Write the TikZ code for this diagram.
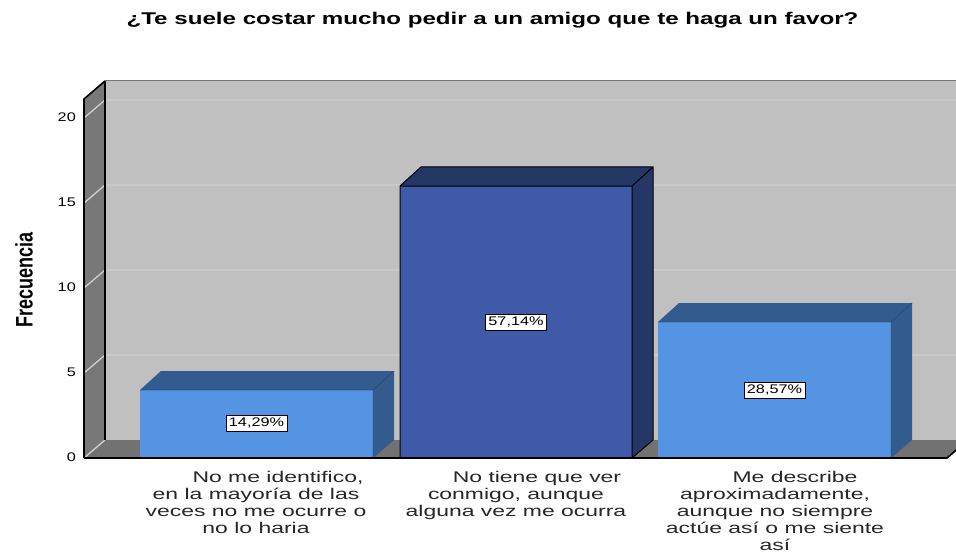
\documentclass[tikz,border=0pt]{standalone}
\usepackage{fontspec}
\setmainfont{Liberation Sans}
\newfontfamily\spssfont[FakeStretch=1.3]{Liberation Sans}
\newfontfamily\spsscat[FakeStretch=1.48]{Liberation Sans}
\newfontfamily\spsstitle[FakeStretch=1.42]{Liberation Sans}
\newfontfamily\spssnarrow[FakeStretch=0.75]{Liberation Sans}

\definecolor{wallgray}{HTML}{C0C0C0}
\definecolor{sidegray}{HTML}{787878}
\definecolor{gridgray}{HTML}{D0D0D0}
\definecolor{lightbar}{HTML}{5594E2}
\definecolor{lightbarside}{HTML}{335B8E}
\definecolor{darkbar}{HTML}{3E5AA8}
\definecolor{darkbarside}{HTML}{243765}

\tikzset{
  gridline/.style={draw=gridgray, line width=1.3pt},
  edge/.style={draw=black, line width=1.6pt},
  tick/.style={anchor=mid east, inner sep=0pt, font=\spssfont\fontsize{12.5}{14}\selectfont},
  pct/.style={draw=black, fill=white, line width=0.8pt, inner xsep=3pt, inner ysep=2.2pt,
    text height=9pt, text depth=2.5pt, font=\spssfont\fontsize{12.5}{14}\selectfont},
  catlabel/.style={anchor=north, align=center, inner sep=0pt, text=black!85,
    font=\spsscat\fontsize{15.5}{16.9}\selectfont}
}

\begin{document}
\begin{tikzpicture}[x=1pt,y=-1pt]
\useasboundingbox (0,0) rectangle (956,559);
\clip (0,0) rectangle (956,559);

\node (title) at (492.5,25) [anchor=base, inner sep=0pt] {\spsstitle\fontsize{17}{20}\selectfont\bfseries ¿Te suele costar mucho pedir a un amigo que te haga un favor?};

% walls and floor
\fill[wallgray] (105,81) rectangle (968,440);
\fill[sidegray] (84,458) -- (84,99) -- (105,81) -- (105,440) -- cycle;
\fill[sidegray!95!black] (84,458) -- (105,440) -- (968,440) -- (947,458) -- cycle;

\draw[gridline] (84,373) -- (105,355) -- (968,355);
\draw[gridline] (84,288) -- (105,270) -- (968,270);
\draw[gridline] (84,203) -- (105,185) -- (968,185);
\draw[gridline] (84,118) -- (105,100) -- (968,100);
\draw[gridline] (84,458) -- (105,440);

\draw[draw=sidegray, line width=1pt] (105,81) -- (968,81);
\draw[edge] (84,458) -- (84,99) -- (105,81);
\draw[draw=black, line width=1.2pt] (105,81) -- (105,440);

\node (t0) at (76,459) [tick] {0};
\node (t5) at (76,374) [tick] {5};
\node (t10) at (76,289) [tick] {10};
\node (t15) at (76,204) [tick] {15};
\node (t20) at (76,119) [tick] {20};

\node (ylab) at (24,280) [rotate=90, inner sep=0pt] {\spssnarrow\fontsize{24}{26}\selectfont\bfseries Frecuencia};

% bar 1
\fill[lightbar] (140,390) rectangle (373,458);
\fill[lightbarside] (140,390) -- (161,371) -- (394,371) -- (373,390) -- cycle;
\fill[lightbarside] (373,390) -- (394,371) -- (394,440) -- (373,458) -- cycle;
\draw[lightbarside!70!black, line width=0.4pt] (140,390) -- (373,390) -- (394,371) (373,390) -- (373,458);

% bar 2
\fill[darkbar] (400,186) rectangle (632,458);
\fill[darkbarside] (400,186) -- (421,167) -- (653,167) -- (632,186) -- cycle;
\fill[darkbarside] (632,186) -- (653,167) -- (653,440) -- (632,458) -- cycle;
\draw[black, line width=1pt] (400,458) -- (400,186) -- (421,167) -- (653,167) -- (653,440) -- (632,458) -- cycle
  (400,186) -- (632,186) -- (653,167) (632,186) -- (632,458);

% bar 3
\fill[lightbar] (658,322) rectangle (891,458);
\fill[lightbarside] (658,322) -- (679,303) -- (912,303) -- (891,322) -- cycle;
\fill[lightbarside] (891,322) -- (912,303) -- (912,440) -- (891,458) -- cycle;
\draw[lightbarside!70!black, line width=0.4pt] (658,322) -- (891,322) -- (912,303) (891,322) -- (891,458);

\draw[edge] (84,458) -- (947,458) -- (968,440);

\node (p1) at (256.5,423) [pct] {14,29\%};
\node (p2) at (516,322) [pct] {57,14\%};
\node (p3) at (774.5,390) [pct] {28,57\%};

\node (c1) at (256,471.5) [catlabel] {\hspace*{44pt}No me identifico,\\en la mayoría de las\\veces no me ocurre o\\no lo haria};
\node (c2) at (516,471.5) [catlabel] {\hspace*{42pt}No tiene que ver\\conmigo, aunque\\alguna vez me ocurra};
\node (c3) at (775,471.5) [catlabel] {\hspace*{40pt}Me describe\\aproximadamente,\\aunque no siempre\\actúe así o me siente\\así};
\end{tikzpicture}
\end{document}
